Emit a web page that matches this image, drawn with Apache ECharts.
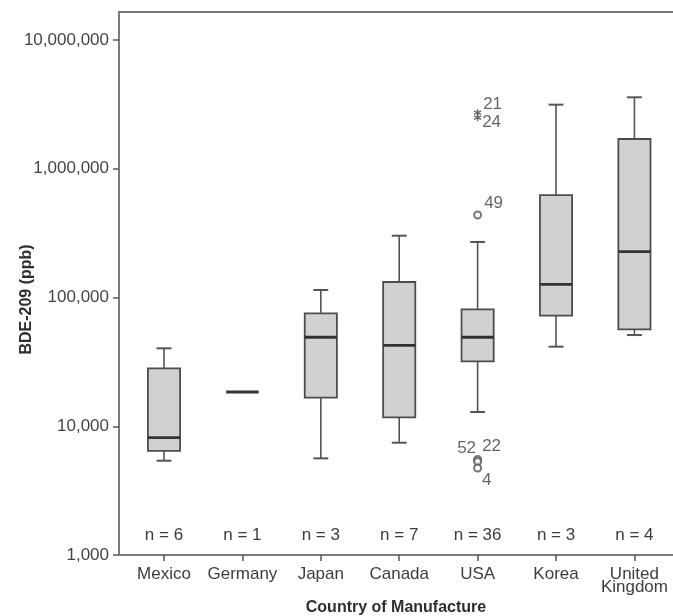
<!DOCTYPE html>
<html><head><meta charset="utf-8">
<script src="https://cdn.jsdelivr.net/npm/echarts@6/dist/echarts.min.js"></script>
<style>html,body{margin:0;padding:0;background:#fff}#c{width:673px;height:616px}</style>
</head><body><div id="c"></div>
<script>
// ---- data ----
const categories = ['Mexico', 'Germany', 'Japan', 'Canada', 'USA', 'Korea', 'United\nKingdom'];
const sampleSizes = [6, 1, 3, 7, 36, 3, 4];
// [lower whisker, Q1, median, Q3, upper whisker] in ppb
const boxMexico  = [5400, 6430, 8150, 28200, 40300];
const boxGermany = [18450, 18450, 18450, 18450, 18450];
const boxJapan   = [5630, 16700, 49100, 75400, 114300];
const boxCanada  = [7450, 11700, 42500, 132000, 302000];
const boxUSA     = [12900, 31950, 49100, 81000, 270000];
const boxKorea   = [41500, 72200, 126600, 625000, 3146000];
const boxUK      = [51100, 56600, 227000, 1702000, 3589000];
const boxValues = [boxMexico, boxGermany, boxJapan, boxCanada, boxUSA, boxKorea, boxUK];
// outliers (circles) and extreme values (stars), all in USA
const outlierCountry = ['USA', 'USA', 'USA', 'USA'];
const outlierValues  = [437000, 5520, 5320, 4740];
const outlierLabels  = ['49', '22', '52', '4'];
const extremeCountry = ['USA', 'USA'];
const extremeValues  = [2725000, 2493000];
const extremeLabels  = ['21', '24'];
const yTickValues = [1000, 10000, 100000, 1000000, 10000000];
const yMin = 1000, yMax = 16500000;

// ---- styles ----
const labelOffsets = { '49': [16, -12], '21': [15, -8], '24': [14, 5], '22': [14, -13], '52': [-11, -13], '4': [9, 12] };
const FONT = '"Liberation Sans", Arial, Helvetica, sans-serif';
const TXT = '#3d3d3d';
const AX = '#7a7a7a';

const catIndex = name => categories.indexOf(name);
const chart = echarts.init(document.getElementById('c'), null, { renderer: 'canvas' });

const boxData = boxValues.map((v, i) => [i].concat(v));
const outlierData = outlierValues.map((v, i) => ({
  value: [catIndex(outlierCountry[i]), v], name: outlierLabels[i],
  label: { offset: labelOffsets[outlierLabels[i]] }
}));
const extremeData = extremeValues.map((v, i) => ({
  value: [catIndex(extremeCountry[i]), v], name: extremeLabels[i],
  label: { offset: labelOffsets[extremeLabels[i]] }
}));
const idx = categories.map((c, i) => i);

const option = {
  animation: false,
  backgroundColor: '#fff',
  textStyle: { fontFamily: FONT },
  grid: { left: 119, right: 0, top: 12, bottom: 61, containLabel: false, outerBoundsMode: 'none' },
  xAxis: [{
    type: 'value', min: -0.574, max: 6.492,
    name: 'Country of Manufacture', nameLocation: 'middle', nameGap: 45, nameMoveOverlap: false,
    nameTextStyle: { fontFamily: FONT, fontSize: 16, fontWeight: 'bold', color: '#2e2e2e' },
    axisLine: { show: true, onZero: false, lineStyle: { color: AX, width: 2 } },
    axisTick: { show: true, length: 6, customValues: idx, lineStyle: { color: '#555', width: 1.5 } },
    axisLabel: {
      customValues: idx, margin: 13, fontFamily: FONT, fontSize: 17, color: TXT, lineHeight: 13,
      formatter: v => categories[Math.round(v)] || ''
    },
    splitLine: { show: false }
  }, {
    type: 'value', position: 'top', min: -0.574, max: 6.492,
    axisLine: { show: true, onZero: false, lineStyle: { color: AX, width: 2 } },
    axisTick: { show: false }, axisLabel: { show: false }, splitLine: { show: false }
  }],
  yAxis: {
    type: 'log', logBase: 10, min: yMin, max: yMax,
    name: 'BDE-209 (ppb)', nameLocation: 'middle', nameGap: 84, nameRotate: 90, nameMoveOverlap: false,
    nameTextStyle: { fontFamily: FONT, fontSize: 16, fontWeight: 'bold', color: '#2e2e2e', padding: [0, 32, 0, 0] },
    axisLine: { show: true, onZero: false, lineStyle: { color: AX, width: 2 } },
    axisTick: { show: true, length: 6, customValues: yTickValues, lineStyle: { color: '#555', width: 1.5 } },
    axisLabel: {
      customValues: yTickValues, margin: 10, fontFamily: FONT, fontSize: 17, color: '#444',
      formatter: v => Number(v).toLocaleString('en-US')
    },
    splitLine: { show: false }
  },
  series: [{
    type: 'custom',
    data: boxData,
    encode: { x: 0, y: [1, 2, 3, 4, 5] },
    renderItem: function (params, api) {
      const x = api.value(0);
      const lo = api.coord([x, api.value(1)]);
      const q1 = api.coord([x, api.value(2)]);
      const md = api.coord([x, api.value(3)]);
      const q3 = api.coord([x, api.value(4)]);
      const hi = api.coord([x, api.value(5)]);
      const band = api.size([1, 0])[0];
      const bw = band * 0.41, cw = band * 0.19;
      const cx = md[0];
      const ws = { stroke: '#555', lineWidth: 1.6 };
      return {
        type: 'group', children: [
          { type: 'line', shape: { x1: cx, y1: hi[1], x2: cx, y2: q3[1] }, style: ws },
          { type: 'line', shape: { x1: cx, y1: q1[1], x2: cx, y2: lo[1] }, style: ws },
          { type: 'line', shape: { x1: cx - cw / 2, y1: hi[1], x2: cx + cw / 2, y2: hi[1] }, style: { stroke: '#555', lineWidth: 2 } },
          { type: 'line', shape: { x1: cx - cw / 2, y1: lo[1], x2: cx + cw / 2, y2: lo[1] }, style: { stroke: '#555', lineWidth: 2 } },
          { type: 'rect', shape: { x: cx - bw / 2, y: q3[1], width: bw, height: q1[1] - q3[1] },
            style: { fill: '#d1d1d1', stroke: '#4d4d4d', lineWidth: 1.8 } },
          { type: 'line', shape: { x1: cx - bw / 2, y1: md[1], x2: cx + bw / 2, y2: md[1] }, style: { stroke: '#333', lineWidth: 2.8 } }
        ]
      };
    }
  }, {
    type: 'custom',
    data: sampleSizes.map((n, i) => [i, n]),
    encode: { x: 0 },
    renderItem: function (params, api) {
      const p = api.coord([api.value(0), yMin]);
      return {
        type: 'text',
        style: { text: 'n = ' + api.value(1), x: p[0], y: p[1] - 20, align: 'center', verticalAlign: 'middle',
          font: '17px ' + FONT, fill: TXT }
      };
    }
  }, {
    type: 'scatter',
    data: outlierData,
    symbol: 'emptyCircle', symbolSize: 7,
    itemStyle: { color: '#555', borderColor: '#555', borderWidth: 1.3 },
    label: { show: true, position: 'inside', formatter: '{b}', fontFamily: FONT, fontSize: 17, color: TXT }
  }, {
    type: 'scatter',
    data: extremeData,
    symbol: 'path://M0,-5L0,5M-4.3,-2.5L4.3,2.5M-4.3,2.5L4.3,-2.5', symbolSize: 7,
    itemStyle: { color: 'none', borderColor: '#444', borderWidth: 1.4 },
    label: { show: true, position: 'inside', formatter: '{b}', fontFamily: FONT, fontSize: 17, color: TXT }
  }]
};
chart.setOption(option);
</script>
</body></html>
